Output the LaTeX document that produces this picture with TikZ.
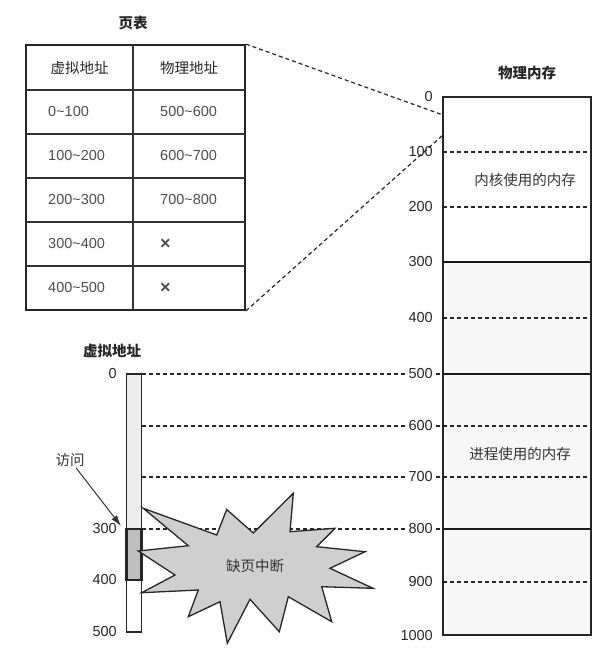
\documentclass[tikz,border=0pt]{standalone}
\usepackage{fontspec}
\setmainfont{Liberation Sans}
\newfontfamily\cjk{Noto Sans CJK SC}
\usetikzlibrary{arrows.meta, positioning}
\newcommand{\figfont}{\fontsize{14.5}{17}\selectfont}
\newcommand{\nomap}{{\fontsize{18}{18}\selectfont\bfseries ×}}
\tikzset{
  %% Titles over the three parts
  parttitle/.style={font=\figfont\cjk\bfseries, text=black!85, inner sep=1pt},
  %% Table frame and grid
  tablebox/.style={draw=black!85, line width=1.8pt,
                   minimum width=219, minimum height=265, inner sep=0pt},
  gridline/.style={draw=black!80, line width=1.4pt},
  cellhead/.style={font=\figfont\cjk, text=black!85, inner sep=1pt},
  cellnum/.style={font=\figfont, text=black!70, anchor=west, inner sep=1pt},
  %% Memory columns
  memframe/.style={draw=black!85, line width=1.7pt, inner sep=0pt},
  split/.style={draw=black!90, line width=1.8pt},
  guide/.style={draw=black!85, line width=1.2pt, dash pattern=on 4pt off 3pt},
  addrlbl/.style={font=\figfont, text=black!85, anchor=east, inner sep=1pt},
  regionlbl/.style={font=\figfont\cjk, text=black!80, inner sep=1pt},
  %% Access arrow and fault burst
  arr/.style={-{Latex[length=11pt,width=7pt]}, draw=black!80, line width=1pt},
  burst/.style={draw=black!85, fill=gray!38, line width=1.3pt, line join=miter},
}

\begin{document}
\begin{tikzpicture}[x=1pt, y=-1pt]
  \useasboundingbox (0,0) rectangle (609,652);

  %% page table
  \node[parttitle] (pttitle) at (133,23) {页表};
  \node[tablebox] (pagetable) at (135.5,177.5) {};
  \draw[gridline] (133,45) -- (133,310);
  \foreach \y in {90,134,178,222,266}
    \draw[gridline] (26,\y) -- (245,\y);
  \node[cellhead] (vahead) at (79.5,67.5) {虚拟地址};
  \node[cellhead] (pahead) at (189,67.5) {物理地址};
  \foreach \a/\b [count=\i] in {%
      0\textasciitilde100/500\textasciitilde600,
      100\textasciitilde200/600\textasciitilde700,
      200\textasciitilde300/700\textasciitilde800,
      300\textasciitilde400/\nomap,
      400\textasciitilde500/\nomap} {
    \node[cellnum] (va\i) at (47,{68+44*\i}) {\a};
    \node[cellnum] (pa\i) at (159,{68+44*\i}) {\b};
  }

  %% physical memory
  \node[parttitle] (pmtitle) at (527,73) {物理内存};
  \fill[gray!6] (443,262) rectangle (591,635);
  \node[memframe, minimum width=148, minimum height=538] (physmem) at (517,366) {};
  \foreach \m/\y/\kind in {100/152/guide, 200/207/guide, 300/262/split,
      400/318/guide, 500/374/split, 600/426/guide, 700/477/guide,
      800/529/split, 900/582/guide}
    \draw[\kind] (443,\y) -- (591,\y);
  \node[regionlbl] (kernel) at (525,180) {内核使用的内存};
  \node[regionlbl] (user) at (520,454) {进程使用的内存};

  %% zoom lines from the table
  \coordinate (ptop) at (443,115);
  \coordinate (pbot) at (443,135);
  \draw[guide] (pagetable.north east) -- (ptop);
  \draw[guide] (pagetable.south east) -- (pbot);

  %% virtual address bar
  \node[parttitle] (vatitle) at (112,351) {虚拟地址};
  \fill[gray!14] (126.5,374) rectangle (141.5,529);
  \node[memframe, line width=1.2pt, minimum width=15, minimum height=258]
       (virtbar) at (134,503) {};
  \draw[fill=gray!50, draw=black!85, line width=2.2pt]
       (126.5,529) rectangle (141.5,580);
  \foreach \v/\y in {0/374, 300/529, 400/580, 500/632}
    \node[addrlbl] (vl\v) at (118,\y) {\v};

  %% mapping lines
  \foreach \v/\m/\y in {0/500/374, 100/600/426, 200/700/477, 300/800/529} {
    \coordinate (v\v) at (141.5,\y);
    \coordinate (m\m) at (443,\y);
    \draw[guide] (v\v) -- (m\m);
  }
  \foreach \m/\y in {0/97, 100/152, 200/207, 300/262, 400/318, 900/582, 1000/635}
    \node[addrlbl] (p\m) at (434,\y) {\m};
  \foreach \m/\y in {500/374, 600/426, 700/477, 800/529}
    \node[addrlbl, fill=white] (p\m) at (434,\y) {\m};

  %% access
  \node[regionlbl] (visit) at (70,460) {访问};
  \coordinate (hit) at (121,526);
  \draw[arr] (visit) -- (hit);

  %% page fault burst
  \draw[burst] (143.3,508.3) -- (216.7,535) -- (226.7,509.5) -- (253.3,533)
    -- (293.3,493.3) -- (290,531.7) -- (335,528.3) -- (316.7,546.7)
    -- (365,551.7) -- (330,568.3) -- (373,588.3) -- (321.7,586.7)
    -- (331.7,621.7) -- (288.3,596.7) -- (279.3,631.7) -- (250,599.3)
    -- (227.3,643.3) -- (220,601.7) -- (188.3,616.7) -- (198.3,590)
    -- (141.7,592.7) -- (175,575) -- (138.3,551) -- (188.3,545.7) -- cycle;
  \node[regionlbl] (fault) at (255,566) {缺页中断};
\end{tikzpicture}
\end{document}
